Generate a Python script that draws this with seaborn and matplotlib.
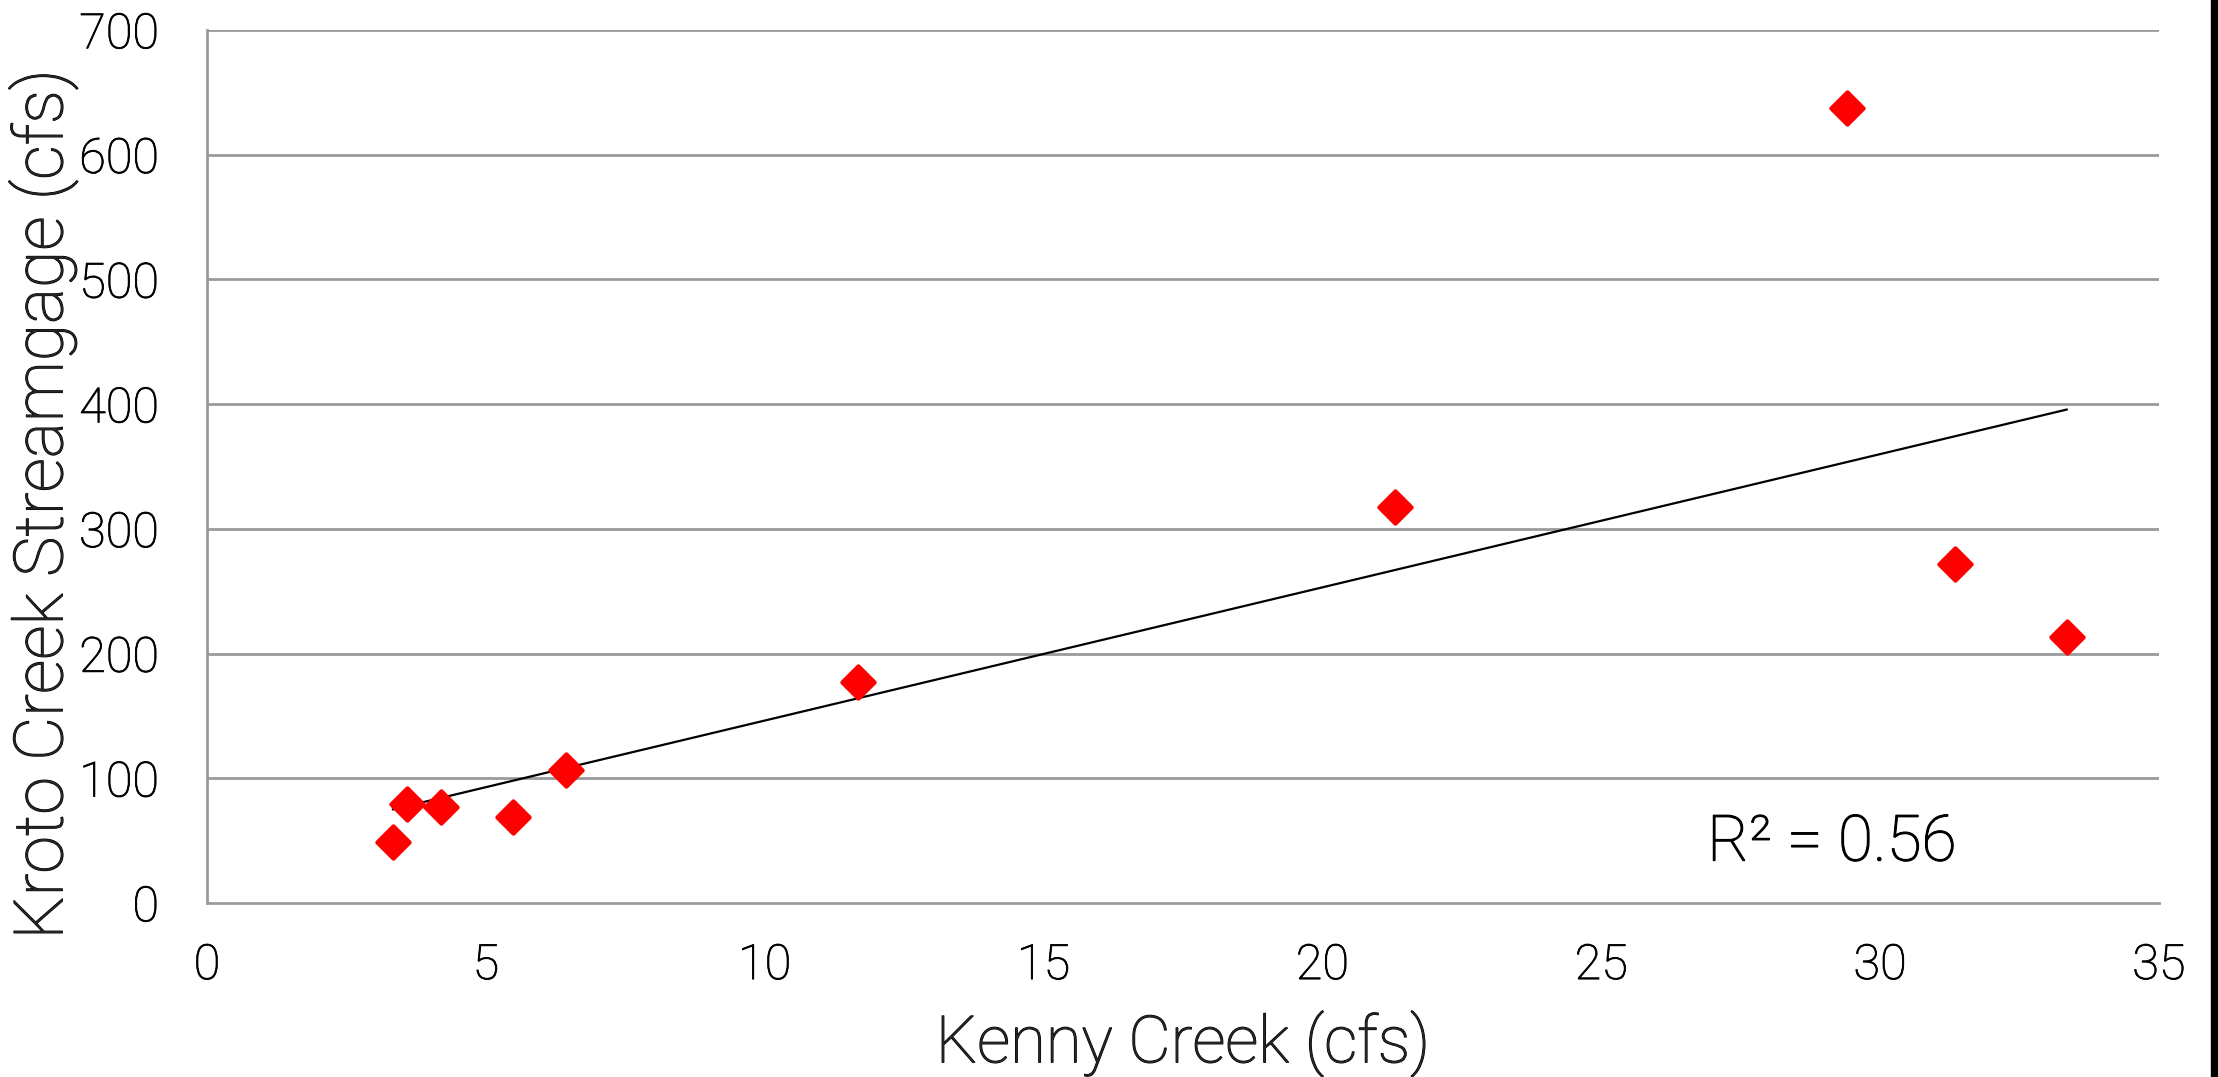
import numpy as np
import pandas as pd
import matplotlib
matplotlib.use("Agg")
import matplotlib.pyplot as plt
import matplotlib.patheffects as pe
from matplotlib.markers import MarkerStyle
from matplotlib.patches import Rectangle
import seaborn as sns

# Data
kenny_cfs = [3.33, 3.58, 4.19, 5.49, 6.43, 11.68, 21.31, 29.41, 31.34, 33.35]
kroto_cfs = [48.8, 79.4, 77.0, 69.0, 106.6, 177.0, 317.7, 637.6, 272.0, 213.0]
x_ticks = [0, 5, 10, 15, 20, 25, 30, 35]
y_ticks = [0, 100, 200, 300, 400, 500, 600, 700]
x_label = "Kenny Creek (cfs)"
y_label = "Kroto Creek Streamgage (cfs)"

df = pd.DataFrame({"kenny": kenny_cfs, "kroto": kroto_cfs})

sns.set_theme(style="white")
plt.rcParams["font.family"] = ["Roboto", "DejaVu Sans"]
W = "light"
thick = [pe.withStroke(linewidth=0.8, foreground="black")]

fig = plt.figure(figsize=(22.18, 10.77), dpi=100)
ax = fig.add_axes([207 / 2218, 1 - 903 / 1077, (2159 - 207) / 2218, (903 - 30) / 1077])

grid_col = "#9a9a9a"
for yv in y_ticks[1:]:
    ax.axhline(yv, color=grid_col, lw=2, zorder=0)

marker = MarkerStyle("D", joinstyle="round")
sns.regplot(data=df, x="kenny", y="kroto", ax=ax, ci=None, marker=marker,
            scatter_kws=dict(s=270, color="#ff0000", edgecolor="#ff0000",
                             linewidths=3, zorder=3, alpha=1),
            line_kws=dict(color="black", lw=1.6, zorder=2))

r2 = np.corrcoef(kenny_cfs, kroto_cfs)[0, 1] ** 2
ax.text(26.9, 34, f"R² = {r2:.2f}", fontsize=46, fontweight=W,
        ha="left", va="baseline", color="black", path_effects=thick)

ax.set_xlim(0, 35)
ax.set_ylim(0, 700)
ax.set_xticks(x_ticks)
ax.set_yticks(y_ticks)
ax.set_xticklabels([str(v) for v in x_ticks])
ax.set_yticklabels([str(v) for v in y_ticks])

for side in ["top", "right"]:
    ax.spines[side].set_visible(False)
for side in ["left", "bottom"]:
    ax.spines[side].set_color(grid_col)
    ax.spines[side].set_linewidth(2)

ax.tick_params(axis="both", which="major", direction="out", length=11.5,
               width=1.5, color=grid_col, labelsize=35, labelcolor="black")
ax.tick_params(axis="x", pad=17)
ax.tick_params(axis="y", pad=23)
for lab in ax.get_xticklabels() + ax.get_yticklabels():
    lab.set_fontweight(W)
    lab.set_path_effects([pe.withStroke(linewidth=0.6, foreground="black")])

ax.set_xlabel(x_label, fontsize=47, fontweight=W, path_effects=thick)
ax.set_ylabel(y_label, fontsize=49, fontweight=W, path_effects=thick)
ax.xaxis.set_label_coords(0.5, -(1044 - 903) / (903 - 30), transform=ax.transAxes)
ax.xaxis.label.set_va("center")
ax.yaxis.set_label_coords((43 - 207) / (2159 - 207), (903 - 505) / (903 - 30), transform=ax.transAxes)
ax.yaxis.label.set_va("center")

# Black strip along the right edge of the image
fig.patches.append(Rectangle((2211 / 2218, 0), 7 / 2218, 1,
                             transform=fig.transFigure, color="black",
                             zorder=10))

fig.savefig("out.png", dpi=100, facecolor="white")
